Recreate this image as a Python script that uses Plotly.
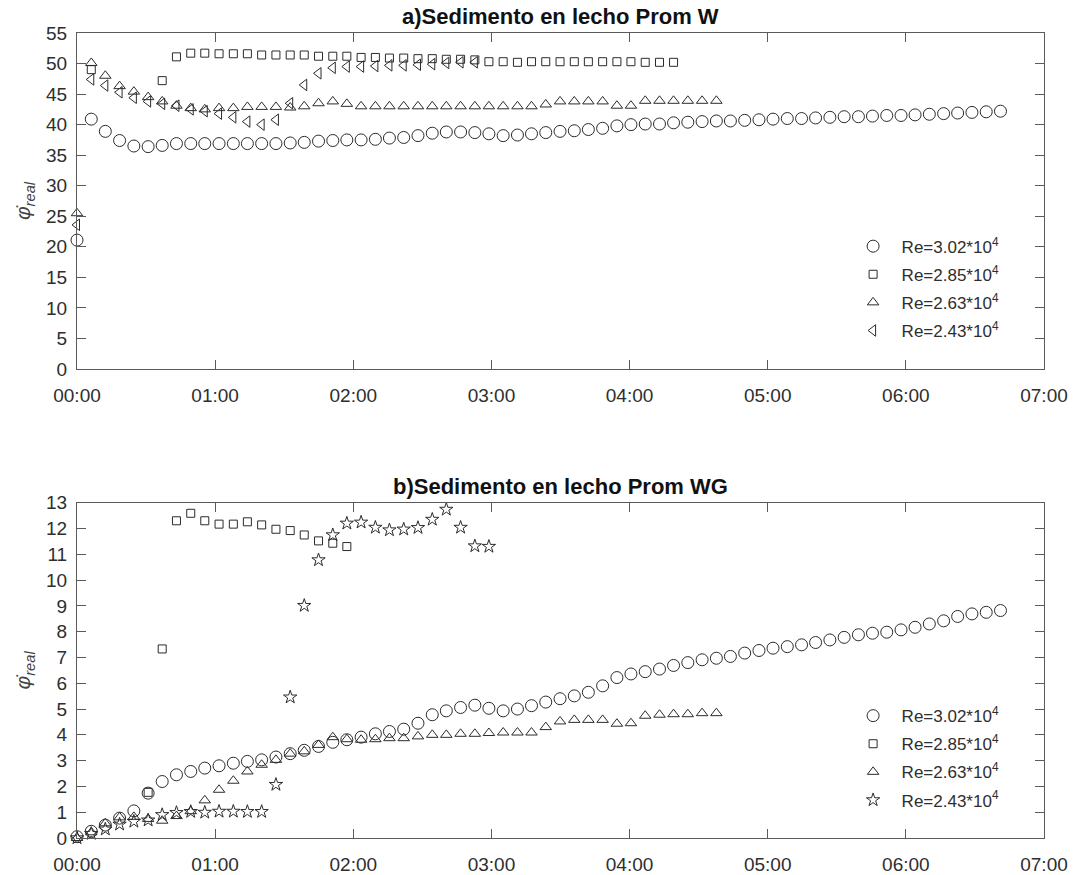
import plotly.graph_objects as go
from plotly.subplots import make_subplots

# sampling times (minutes) shared by all series
t_min = [0, 6.2, 12.3, 18.5, 24.7, 30.9, 37.0, 43.2, 49.4, 55.5,
         61.7, 67.9, 74.0, 80.2, 86.4, 92.6, 98.7, 104.9, 111.1, 117.2,
         123.4, 129.6, 135.7, 141.9, 148.1, 154.3, 160.4, 166.6, 172.8, 178.9,
         185.1, 191.3, 197.4, 203.6, 209.8, 216.0, 222.1, 228.3, 234.5, 240.6,
         246.8, 253.0, 259.1, 265.3, 271.5, 277.7, 283.8, 290.0, 296.2, 302.3,
         308.5, 314.7, 320.8, 327.0, 333.2, 339.4, 345.5, 351.7, 357.9, 364.0,
         370.2, 376.4, 382.5, 388.7, 394.9, 401.1]

x_tickvals = [0, 60, 120, 180, 240, 300, 360, 420]
x_ticktext = ["00:00", "01:00", "02:00", "03:00", "04:00", "05:00", "06:00", "07:00"]

legend_names = ["Re=3.02*10<sup>4</sup>", "Re=2.85*10<sup>4</sup>",
                "Re=2.63*10<sup>4</sup>", "Re=2.43*10<sup>4</sup>"]

# ---- panel a) Prom W  (None = no sample) ----
a_re302 = [21.1, 40.9, 38.9, 37.4, 36.5, 36.4, 36.6, 36.9, 36.9, 36.9,
           36.9, 36.9, 36.9, 36.9, 36.9, 37.0, 37.1, 37.3, 37.4, 37.5,
           37.5, 37.6, 37.8, 37.9, 38.2, 38.6, 38.8, 38.8, 38.7, 38.5,
           38.2, 38.3, 38.5, 38.7, 38.9, 39.0, 39.2, 39.4, 39.8, 40.0,
           40.1, 40.1, 40.3, 40.4, 40.5, 40.6, 40.6, 40.7, 40.8, 40.9,
           41.0, 41.0, 41.1, 41.2, 41.3, 41.3, 41.4, 41.5, 41.5, 41.6,
           41.7, 41.8, 41.9, 42.0, 42.1, 42.2]
a_re285 = [None, 49.0, None, None, None, None, 47.2, 51.1, 51.7, 51.7,
           51.6, 51.6, 51.6, 51.4, 51.4, 51.4, 51.4, 51.2, 51.2, 51.2,
           51.0, 51.0, 50.9, 50.9, 50.8, 50.8, 50.7, 50.7, 50.6, 50.3,
           50.3, 50.2, 50.3, 50.3, 50.3, 50.3, 50.3, 50.3, 50.3, 50.3,
           50.2, 50.2, 50.2]
a_re263 = [25.5, 50.1, 48.0, 46.3, 45.4, 44.5, 43.8, 43.1, 42.7, 42.5,
           42.7, 42.7, 42.9, 42.9, 42.9, 42.8, 43.0, 43.5, 43.8, 43.4,
           43.0, 43.0, 43.0, 43.0, 43.0, 43.0, 43.0, 43.0, 43.0, 43.0,
           43.0, 43.0, 43.0, 43.3, 43.8, 43.8, 43.8, 43.8, 43.1, 43.1,
           43.9, 43.9, 43.9, 43.9, 43.9, 43.9]
a_re243 = [23.6, 47.4, 46.4, 45.3, 44.4, 43.8, 43.4, 43.1, 42.5, 42.2,
           41.8, 41.2, 40.5, 40.0, 40.8, 43.5, 46.5, 48.4, 49.3, 49.5,
           49.5, 49.6, 49.7, 49.7, 49.8, 49.9, 50.1, 50.2, 50.2]

# ---- panel b) Prom WG ----
b_re302 = [0.05, 0.26, 0.50, 0.77, 1.05, 1.74, 2.19, 2.45, 2.58, 2.71,
           2.80, 2.90, 2.97, 3.03, 3.14, 3.27, 3.40, 3.55, 3.71, 3.81,
           3.91, 4.04, 4.13, 4.22, 4.45, 4.78, 4.93, 5.06, 5.15, 5.03,
           4.93, 5.00, 5.13, 5.27, 5.40, 5.51, 5.65, 5.90, 6.22, 6.36,
           6.45, 6.55, 6.69, 6.80, 6.91, 6.97, 7.04, 7.17, 7.27, 7.36,
           7.42, 7.49, 7.58, 7.68, 7.78, 7.88, 7.94, 7.98, 8.07, 8.17,
           8.30, 8.42, 8.59, 8.69, 8.75, 8.82]
b_re285 = [None, None, None, None, None, 1.77, 7.33, 12.30, 12.59, 12.30,
           12.17, 12.17, 12.26, 12.14, 11.97, 11.92, 11.75, 11.52, 11.43, 11.30]
b_re263 = [0.0, 0.22, 0.57, 0.80, 0.82, 0.74, 0.67, 0.85, 1.04, 1.46,
           1.87, 2.22, 2.58, 2.84, 3.03, 3.27, 3.36, 3.61, 3.91, 3.83,
           3.81, 3.83, 3.87, 3.87, 3.94, 4.00, 4.00, 4.04, 4.04, 4.07,
           4.09, 4.09, 4.09, 4.30, 4.52, 4.58, 4.58, 4.58, 4.43, 4.45,
           4.74, 4.78, 4.80, 4.80, 4.84, 4.84]
b_re243 = [0.0, 0.17, 0.34, 0.53, 0.64, 0.69, 0.90, 0.98, 1.02, 0.99,
           1.03, 1.03, 1.02, 1.02, 2.07, 5.46, 9.01, 10.78, 11.75, 12.20,
           12.24, 12.04, 11.94, 11.97, 12.03, 12.35, 12.74, 12.04, 11.32, 11.30]

FONT = "Liberation Sans, Arial, sans-serif"
MK = "#2b2b2b"
AX = "#5a5a5a"
TXT = "#2e2e2e"

fig = make_subplots(rows=2, cols=1)

symbols_a = ["circle-open", "square-open", "triangle-up-open", "triangle-left-open"]
sizes_a = [12, 8, 10, 10]
symbols_b = ["circle-open", "square-open", "triangle-up-open", "star-open"]
sizes_b = [12, 8, 10, 10]

for i, (name, vals, sym, sz) in enumerate(zip(legend_names, [a_re302, a_re285, a_re263, a_re243], symbols_a, sizes_a)):
    fig.add_trace(go.Scatter(x=t_min[:len(vals)], y=vals, mode="markers", name=name,
                             marker=dict(symbol=sym, size=sz, color=MK, line=dict(width=1, color=MK)),
                             cliponaxis=False, legend="legend", legendgroup="a%d" % i), row=1, col=1)

for i, (name, vals, sym, sz) in enumerate(zip(legend_names, [b_re302, b_re285, b_re263, b_re243], symbols_b, sizes_b)):
    fig.add_trace(go.Scatter(x=t_min[:len(vals)], y=vals, mode="markers", name=name,
                             marker=dict(symbol=sym, size=sz, color=MK, line=dict(width=1, color=MK)),
                             cliponaxis=False, legend="legend2", legendgroup="b%d" % i), row=2, col=1)

axis_common = dict(showline=True, linecolor=AX, linewidth=1, mirror="ticks",
                   ticks="inside", ticklen=9, tickcolor=AX, tickwidth=1,
                   showgrid=False, zeroline=False, automargin=False,
                   tickfont=dict(family=FONT, size=19, color=TXT))

fig.update_xaxes(range=[0, 420], tickmode="array", tickvals=x_tickvals, ticktext=x_ticktext,
                 ticklabelstandoff=9, **axis_common)
fig.update_yaxes(ticklabelstandoff=5, **axis_common)

ytitle = dict(text="<i>φ̇</i><sub><i>real</i></sub>", font=dict(family=FONT, size=21, color="#444"), standoff=9)

leg_common = dict(xanchor="left", yanchor="top", bgcolor="rgba(0,0,0,0)",
                  font=dict(family=FONT, size=17, color=TXT), tracegroupgap=3, itemwidth=47)

fig.update_layout(
    width=1073, height=875,
    margin=dict(l=77, r=29, t=33, b=37, autoexpand=False),
    paper_bgcolor="white", plot_bgcolor="white",
    font=dict(family=FONT, color=TXT),
    xaxis=dict(domain=[0, 1]),
    yaxis=dict(domain=[0.5826, 1.0], range=[0, 55], tickmode="linear", tick0=0, dtick=5, title=ytitle),
    xaxis2=dict(domain=[0, 1]),
    yaxis2=dict(domain=[0, 0.4165], range=[0, 13], tickmode="linear", tick0=0, dtick=1, title=ytitle),
    legend=dict(x=0.7938, y=0.7570, **leg_common),
    legend2=dict(x=0.7938, y=0.1738, **leg_common),
    annotations=[
        dict(text="<b>a)Sedimento en lecho Prom W</b>", x=0.5, y=1.0199, xref="paper", yref="paper",
             xanchor="center", yanchor="middle", showarrow=False,
             font=dict(family=FONT, size=22, color="#111")),
        dict(text="<b>b)Sedimento en lecho Prom WG</b>", x=0.5, y=0.4366, xref="paper", yref="paper",
             xanchor="center", yanchor="middle", showarrow=False,
             font=dict(family=FONT, size=22, color="#111")),
    ],
)

fig.write_html("out.html")
